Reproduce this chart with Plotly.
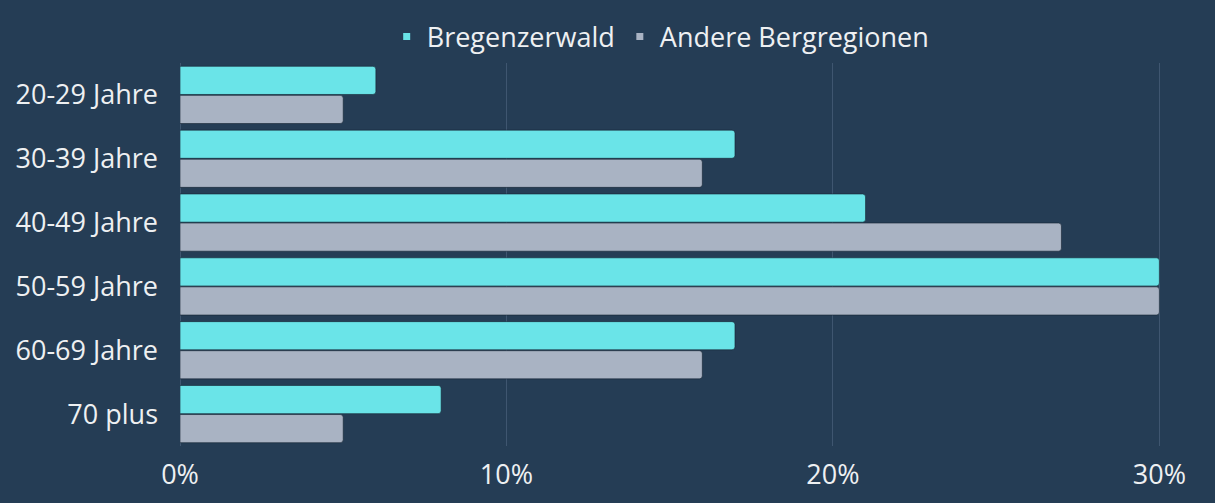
import plotly.graph_objects as go

categories = ["20-29 Jahre", "30-39 Jahre", "40-49 Jahre", "50-59 Jahre", "60-69 Jahre", "70 plus"]
bregenzerwald = [6, 17, 21, 30, 17, 8]
andere = [5, 16, 27, 30, 16, 5]
series_names = ["Bregenzerwald", "Andere Bergregionen"]
tick_vals = [0, 10, 20, 30]
tick_text = ["0%", "10%", "20%", "30%"]

BG = "#253d55"
CYAN = "#6ae4e8"
GRAY = "#a9b3c3"
TXT = "#eef0f2"
FS = 27

fig = go.Figure()
for name, vals, col in [(series_names[0], bregenzerwald, CYAN), (series_names[1], andere, GRAY)]:
    fig.add_trace(go.Bar(
        y=categories, x=vals, orientation="h", name=name, showlegend=False,
        marker=dict(color=col, line=dict(color="rgba(20,35,50,0.6)", width=1)),
    ))
for name, col in [(series_names[0], CYAN), (series_names[1], GRAY)]:
    fig.add_trace(go.Scatter(
        x=[None], y=[None], mode="markers", name=name,
        marker=dict(symbol="square", size=7, color=col),
    ))

fig.update_layout(
    width=1215, height=503,
    paper_bgcolor=BG, plot_bgcolor=BG,
    margin=dict(l=180, r=54, t=63, b=57),
    barmode="group", bargap=0.09, bargroupgap=0.03, barcornerradius=3,
    font=dict(family="Open Sans", size=FS, color=TXT),
    legend=dict(orientation="h", x=0.49, xanchor="center", y=1.068, yanchor="middle",
                font=dict(size=FS, color=TXT), itemwidth=30, tracegroupgap=0,
                bgcolor="rgba(0,0,0,0)"),
    xaxis=dict(range=[0, 30.05], tickvals=tick_vals, ticktext=tick_text,
               showgrid=True, gridcolor="#3f5670", gridwidth=1,
               zeroline=True, zerolinecolor="#3f5670", zerolinewidth=1,
               showline=False, ticks="", ticklabelstandoff=10,
               tickfont=dict(size=FS, color=TXT)),
    yaxis=dict(autorange="reversed", showgrid=False, zeroline=False, showline=False,
               ticks="", ticklabelstandoff=21, tickfont=dict(size=FS, color=TXT)),
)

fig.write_html("out.html", config={"displayModeBar": False},
               post_script="document.body.style.margin='0';document.body.style.background='%s';" % BG)
